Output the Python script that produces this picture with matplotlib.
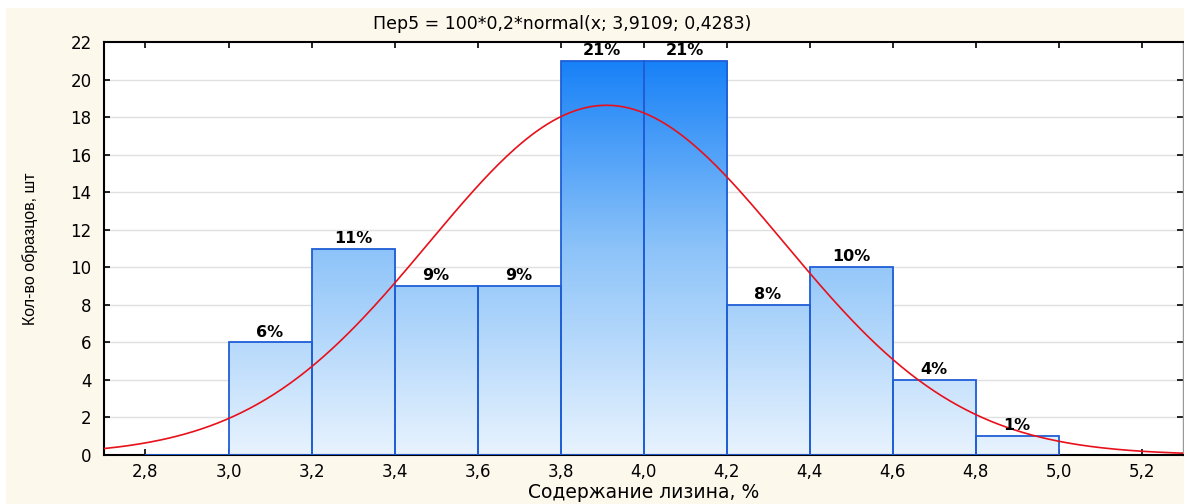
import numpy as np
import matplotlib
matplotlib.use("Agg")
import matplotlib.pyplot as plt
from matplotlib.colors import LinearSegmentedColormap
from matplotlib.patches import Rectangle

# Histogram of lysine content: bin edges and sample counts per bin
bin_edges = [2.8, 3.0, 3.2, 3.4, 3.6, 3.8, 4.0, 4.2, 4.4, 4.6, 4.8, 5.0]
counts = [0, 6, 11, 9, 9, 21, 21, 8, 10, 4, 1]
percent_labels = ["", "6%", "11%", "9%", "9%", "21%", "21%", "8%", "10%", "4%", "1%"]

# Fitted normal curve parameters: 100 * 0.2 * normal(x; mean, sd)
n_total = 100
bin_width = 0.2
mu = 3.9109
sigma = 0.4283

x_ticks = [2.8, 3.0, 3.2, 3.4, 3.6, 3.8, 4.0, 4.2, 4.4, 4.6, 4.8, 5.0, 5.2]
x_tick_labels = ["2,8", "3,0", "3,2", "3,4", "3,6", "3,8", "4,0", "4,2", "4,4", "4,6", "4,8", "5,0", "5,2"]
y_ticks = list(range(0, 23, 2))

title = "Пер5 = 100*0,2*normal(x; 3,9109; 0,4283)"
x_label = "Содержание лизина, %"
y_label = "Кол-во образцов, шт"

W, H = 1184, 504
fig = plt.figure(figsize=(W / 100, H / 100), dpi=100, facecolor="white")

# cream graph background
fig.patches.append(Rectangle((6 / W, 0), 1 - 6 / W, 1 - 8 / H, transform=fig.transFigure,
                             facecolor="#FDF8EC", edgecolor="none", zorder=-10))

ax = fig.add_axes([104 / W, 49 / H, (1183 - 104) / W, (455 - 42) / H])
ax.set_facecolor("white")
xmin, xmax, ymin, ymax = 2.7, 5.3, 0, 22
ax.set_xlim(xmin, xmax)
ax.set_ylim(ymin, ymax)

# horizontal grid
for yv in y_ticks[1:-1]:
    ax.axhline(yv, color="#E0E0E0", lw=1.0, zorder=0)

# bars with vertical blue gradient
cmap = LinearSegmentedColormap.from_list("bargrad", ["#E8F3FE", "#8CC3F9", "#0B7AF7"])
grad = np.linspace(0, 1, 256).reshape(-1, 1)
bars = ax.bar(bin_edges[:-1], counts, width=bin_width, align="edge",
              facecolor="none", edgecolor="#1F5ED6", linewidth=1.3, zorder=3)
for b in bars:
    im = ax.imshow(grad, cmap=cmap, origin="lower", aspect="auto",
                   extent=[xmin, xmax, ymin, ymax], zorder=2, interpolation="bilinear")
    im.set_clip_path(b)
ax.set_xlim(xmin, xmax)
ax.set_ylim(ymin, ymax)

# percentage labels
for b, lab in zip(bars, percent_labels):
    if lab:
        ax.annotate(lab, (b.get_x() + b.get_width() / 2, b.get_height()),
                    xytext=(0, 2), textcoords="offset points",
                    ha="center", va="bottom", fontsize=11.5, fontweight="bold",
                    family="DejaVu Sans", color="black", zorder=5)

# normal curve
xs = np.linspace(xmin, xmax, 400)
ys = n_total * bin_width * np.exp(-0.5 * ((xs - mu) / sigma) ** 2) / (sigma * np.sqrt(2 * np.pi))
ax.plot(xs, ys, color="#E8101A", lw=1.2, zorder=4)

# axes styling
for side in ["left", "bottom", "top"]:
    ax.spines[side].set_linewidth(1.5)
    ax.spines[side].set_color("black")
ax.spines["right"].set_linewidth(1.0)
ax.spines["right"].set_color("#9A9A9A")

ax.set_xticks(x_ticks)
ax.set_xticklabels(x_tick_labels)
ax.set_yticks(y_ticks)
ax.tick_params(axis="x", direction="in", length=4, width=1.2, top=True, pad=6,
               labelsize=12)
ax.tick_params(axis="y", direction="in", length=4, width=1.2, right=True, pad=9,
               labelsize=12)
for lbl in ax.get_xticklabels() + ax.get_yticklabels():
    lbl.set_family("DejaVu Sans")

ax.set_xlabel(x_label, fontsize=13.5, family="DejaVu Sans")
ax.xaxis.set_label_coords(0.5, -0.092)
ax.xaxis.label.set_va("center")

fig.text(30 / W, 1 - 249 / H, y_label, rotation=90, ha="center", va="center",
         fontsize=11.5, family=["Liberation Sans Narrow", "Liberation Sans"])

fig.text(562 / W, 1 - 24 / H, title, ha="center", va="center",
         fontsize=12.5, family="DejaVu Sans")

fig.savefig("out.png", dpi=100, facecolor=fig.get_facecolor())
